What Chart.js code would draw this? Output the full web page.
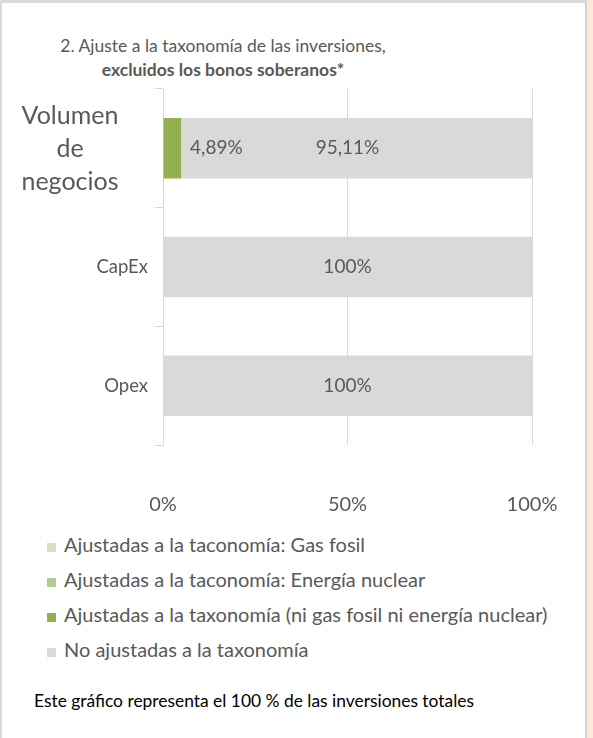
<!DOCTYPE html>
<html>
<head>
<meta charset="utf-8">
<script src="https://cdn.jsdelivr.net/npm/chart.js@4.4.1/dist/chart.umd.min.js"></script>
<style>
  body { margin: 0; background: #fff; font-family: Lato, "Open Sans", sans-serif; }
  #frame { position: absolute; left: 0; top: 0; width: 587px; height: 738px; background: #fff;
           border-top: 3px solid #d9d9d9; border-left: 2px solid #d9d9d9; border-right: 2px solid #d4d4d4; box-sizing: border-box; }
  #strip { position: absolute; left: 587px; top: 0; width: 6px; height: 738px; background: #fce9d9; }
  #title { position: absolute; left: 0; top: 34px; width: 446px; text-align: center; color: #595959; font-size: 17.5px; line-height: 24px; }
  #title b { font-weight: bold; }
  #wrap { position: absolute; left: 0; top: 0; width: 585px; height: 522px; }
  #legend { position: absolute; left: 47px; top: 530px; margin: 0; padding: 0; list-style: none; color: #595959; font-size: 20px; }
  #legend li { height: 35px; line-height: 28px; white-space: nowrap; }
  #legend span { display: inline-block; width: 9px; height: 9px; margin-right: 8px; vertical-align: 0px; }
  #note { position: absolute; left: 34px; top: 690px; color: #000; font-size: 17.4px; }
</style>
</head>
<body>
<div id="frame"></div>
<div id="strip"></div>
<div id="title">2. Ajuste a la taxonomía de las inversiones,<br><b>excluidos los bonos soberanos*</b></div>
<div id="wrap"><canvas id="chart"></canvas></div>
<ul id="legend"></ul>
<div id="note">Este gráfico representa el 100 % de las inversiones totales</div>
<script>
var categories = [['Volumen', 'de', 'negocios'], 'CapEx', 'Opex'];
var gasFosil = [0, 0, 0];
var nuclear = [0, 0, 0];
var alineadas = [4.89, 0, 0];
var noAlineadas = [95.11, 100, 100];
var xTicks = [0, 50, 100];

var grey = '#595959';

function pct(v) {
  return String(v).replace('.', ',') + '%';
}

// category labels on the left: wrapped one centred, single ones right aligned
var catLabels = {
  id: 'catLabels',
  afterDraw: function(chart) {
    var ctx = chart.ctx;
    var y = chart.scales.y;
    var left = chart.chartArea.left;
    ctx.save();
    ctx.fillStyle = grey;
    ctx.textBaseline = 'middle';
    categories.forEach(function(c, i) {
      var yc = y.getPixelForValue(i);
      if (Array.isArray(c)) {
        ctx.font = '25px Lato';
        ctx.textAlign = 'center';
        var lh = 33;
        c.forEach(function(line, j) {
          ctx.fillText(line, left - 93, yc + 1 + (j - (c.length - 1) / 2) * lh);
        });
      } else {
        ctx.font = '18.5px Lato';
        ctx.textAlign = 'right';
        ctx.fillText(c, left - 15, yc);
      }
    });
    ctx.restore();
  }
};

// value labels inside / next to the bars
var valueLabels = {
  id: 'valueLabels',
  afterDatasetsDraw: function(chart) {
    var ctx = chart.ctx;
    var x = chart.scales.x;
    ctx.save();
    ctx.fillStyle = grey;
    ctx.font = '19px Lato';
    ctx.textBaseline = 'middle';
    chart.data.datasets.forEach(function(ds, di) {
      var meta = chart.getDatasetMeta(di);
      meta.data.forEach(function(bar, i) {
        var v = ds.data[i];
        if (!v) return;
        if (v < 10) {
          ctx.textAlign = 'left';
          ctx.fillText(pct(v), bar.x + 9, bar.y);
        } else {
          var total = 0;
          chart.data.datasets.forEach(function(d) { total += d.data[i]; });
          ctx.textAlign = 'center';
          ctx.fillText(pct(v), x.getPixelForValue(total / 2), bar.y);
        }
      });
    });
    ctx.restore();
  }
};

var chart = new Chart(document.getElementById('chart'), {
  type: 'bar',
  data: {
    labels: categories,
    datasets: [
      { label: 'Ajustadas a la taconomía: Gas fosil', data: gasFosil, backgroundColor: '#d3e2c0' },
      { label: 'Ajustadas a la taconomía: Energía nuclear', data: nuclear, backgroundColor: '#b4cc8e' },
      { label: 'Ajustadas a la taxonomía (ni gas fosil ni energía nuclear)', data: alineadas, backgroundColor: '#92b050' },
      { label: 'No ajustadas a la taxonomía', data: noAlineadas, backgroundColor: '#d9d9d9' }
    ]
  },
  options: {
    indexAxis: 'y',
    responsive: true,
    maintainAspectRatio: false,
    animation: false,
    barPercentage: 0.51,
    categoryPercentage: 1,
    layout: { padding: { top: 89, right: 53, bottom: 1, left: 0 } },
    plugins: {
      legend: { display: false },
      tooltip: { enabled: false }
    },
    scales: {
      x: {
        stacked: true,
        min: 0,
        max: 100,
        afterBuildTicks: function(s) { s.ticks = xTicks.map(function(v) { return { value: v }; }); },
        ticks: {
          color: grey,
          font: { family: 'Lato', size: 20 },
          padding: 4,
          callback: function(v) { return v + '%'; }
        },
        // invisible tick marks push the labels down without eating the right side
        grid: { color: '#d9d9d9', drawTicks: true, tickLength: 44, tickColor: 'rgba(0,0,0,0)' },
        border: { display: false }
      },
      y: {
        stacked: true,
        afterFit: function(s) { s.width = 163; },
        ticks: { display: false },
        grid: { drawOnChartArea: false, color: '#d9d9d9', tickLength: 8, offset: true },
        border: { display: true, color: '#d9d9d9' }
      }
    }
  },
  plugins: [catLabels, valueLabels]
});

// legend as a list under the chart
var legend = document.getElementById('legend');
chart.data.datasets.forEach(function(ds) {
  var li = document.createElement('li');
  var sw = document.createElement('span');
  sw.style.background = ds.backgroundColor;
  li.appendChild(sw);
  li.appendChild(document.createTextNode(ds.label));
  legend.appendChild(li);
});
</script>
</body>
</html>
